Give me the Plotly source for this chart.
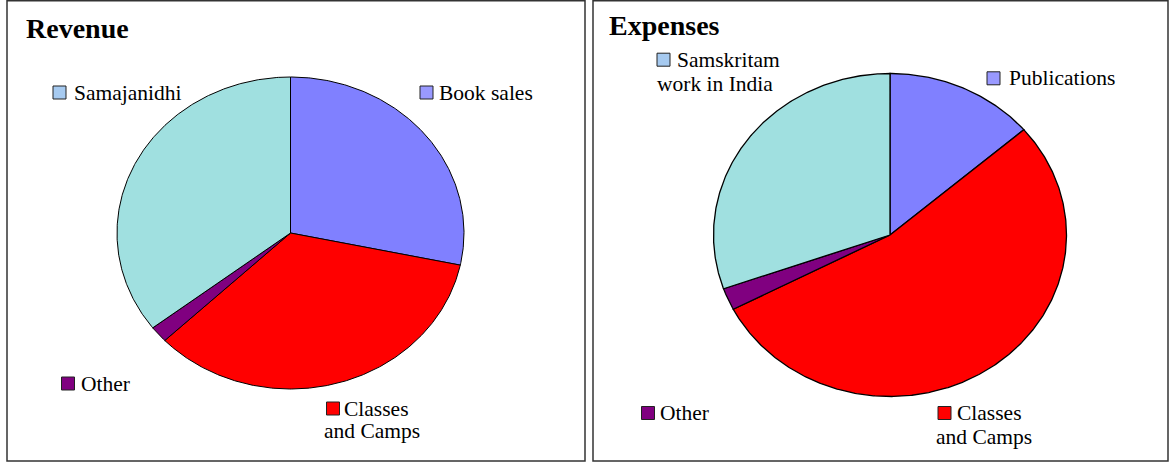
import numpy as np
import plotly.graph_objects as go

# ---- data (percent shares, read clockwise from 12 o'clock) ----
rev_labels = ["Book sales", "Classes and Camps", "Other", "Samajanidhi"]
rev_values = [28.3, 34.6, 1.7, 35.4]

exp_labels = ["Publications", "Classes and Camps", "Other", "Samskritam work in India"]
exp_values = [13.7, 53.7, 2.2, 30.4]

# ---- styles ----
slice_colors = ["#8080FF", "#FF0000", "#800080", "#A0E0E0"]
marker_colors = ["#9999FF", "#FF0000", "#800080", "#A6CAF0"]
FONT = "Liberation Serif"

W, H = 1174, 464
fig = go.Figure()


def add_pie(values, labels, cx, cy, rx, ry, lw):
    total = float(sum(values))
    start = 0.0
    for v, lab, col in zip(values, labels, slice_colors):
        ang = 360.0 * v / total
        th = np.radians(np.linspace(start, start + ang, max(4, int(ang * 2))))
        xs = np.concatenate([[cx], cx + rx * np.sin(th), [cx]])
        ys = np.concatenate([[cy], cy - ry * np.cos(th), [cy]])
        fig.add_trace(go.Scatter(
            x=xs, y=ys, mode="lines", fill="toself", fillcolor=col,
            line=dict(color="#000000", width=lw), name=lab,
            hoverinfo="text", text=f"{lab}: {v}%", showlegend=False))
        start += ang


add_pie(rev_values, rev_labels, 290.5, 233, 173.5, 156, 1)
add_pie(exp_values, exp_labels, 890, 235, 176.5, 161.5, 1.3)

annotations = []
shapes = []

# panel frames
for x0, x1 in [(7, 585), (593, 1168)]:
    shapes.append(dict(type="rect", xref="x", yref="y", x0=x0, x1=x1, y0=0.8, y1=461,
                       line=dict(color="#333333", width=1.5), fillcolor="rgba(0,0,0,0)"))

# titles
for txt, x, y in [("Revenue", 24, 28), ("Expenses", 607, 25)]:
    annotations.append(dict(x=x, y=y, xref="x", yref="y", text=f"<b>{txt}</b>",
                            showarrow=False, xanchor="left", yanchor="middle",
                            font=dict(family=FONT, size=28, color="black")))


def legend_item(lines, color, sx, sy, tx, tx2=None, dy=22):
    shapes.append(dict(type="rect", xref="x", yref="y", x0=sx, x1=sx + 13,
                       y0=sy - 6.5, y1=sy + 6.5, fillcolor=color,
                       line=dict(color="#222222", width=1)))
    annotations.append(dict(x=tx, y=sy, xref="x", yref="y", text=lines[0],
                            showarrow=False, xanchor="left", yanchor="middle",
                            font=dict(family=FONT, size=21.5, color="black")))
    if len(lines) > 1:
        annotations.append(dict(x=tx2, y=sy + dy, xref="x", yref="y", text=lines[1],
                                showarrow=False, xanchor="left", yanchor="middle",
                                font=dict(family=FONT, size=21.5, color="black")))


# Revenue legend labels
legend_item(["Samajanidhi"], marker_colors[3], 53, 92.5, 72)
legend_item(["Book sales"], marker_colors[0], 420, 92.5, 437)
legend_item(["Other"], marker_colors[2], 61.5, 383.5, 79)
legend_item(["Classes", "and Camps"], marker_colors[1], 326.5, 408.5, 342, 322, 22)

# Expenses legend labels
legend_item(["Samskritam", "work in India"], marker_colors[3], 657, 59.7, 675, 655, 24.5)
legend_item(["Publications"], marker_colors[0], 987, 78.3, 1007)
legend_item(["Other"], marker_colors[2], 641.5, 413, 658)
legend_item(["Classes", "and Camps"], marker_colors[1], 938, 413, 955, 934, 23.5)

fig.update_layout(
    width=W, height=H, autosize=False,
    margin=dict(l=0, r=0, t=0, b=0),
    paper_bgcolor="white", plot_bgcolor="white",
    font=dict(family=FONT),
    xaxis=dict(range=[0, W], visible=False, fixedrange=True),
    yaxis=dict(range=[H, 0], visible=False, fixedrange=True),
    annotations=annotations, shapes=shapes, showlegend=False,
)

fig.write_html("out.html", config={"displayModeBar": False},
               post_script="document.body.style.margin='0';document.body.style.overflow='hidden';")
